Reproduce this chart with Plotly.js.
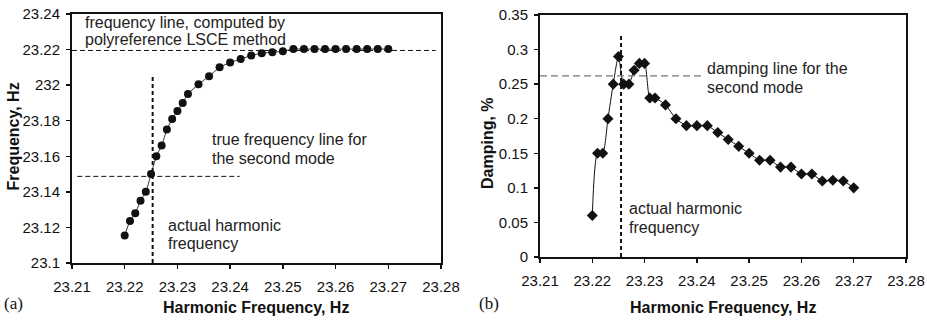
<!DOCTYPE html>
<html><head><meta charset="utf-8">
<script src="https://cdn.plot.ly/plotly-3.0.1.min.js"></script>
<style>html,body{margin:0;padding:0;background:#fff}#chart{width:927px;height:320px}</style>
</head><body><div id="chart"></div>
<script>
// Harmonic frequency (shared x values)
const harmonicFreq = [23.220,23.221,23.222,23.223,23.224,23.225,23.226,23.227,23.228,23.229,23.230,23.231,23.232,
  23.234,23.236,23.238,23.240,23.242,23.244,23.246,23.248,23.250,23.252,23.254,23.256,23.258,23.260,23.262,23.264,23.266,23.268,23.270];
// (a) identified frequency
const frequency = [23.1155,23.1236,23.128,23.135,23.140,23.150,23.160,23.166,23.175,23.181,23.1855,23.190,23.195,
  23.2005,23.205,23.210,23.2127,23.2147,23.2166,23.218,23.2185,23.219,23.2203,23.2203,23.2203,23.2203,23.2203,23.2203,23.2203,23.2203,23.2203,23.2203];
// (b) identified damping, %
const damping = [0.06,0.15,0.15,0.20,0.25,0.29,0.25,0.25,0.27,0.28,0.28,0.23,0.23,
  0.22,0.20,0.19,0.19,0.19,0.18,0.17,0.16,0.15,0.14,0.14,0.13,0.13,0.12,0.12,0.11,0.111,0.11,0.10];

const xTicks = [23.21,23.22,23.23,23.24,23.25,23.26,23.27,23.28];
const xTickText = ["23.21","23.22","23.23","23.24","23.25","23.26","23.27","23.28"];
const yTicksA = [23.1,23.12,23.14,23.16,23.18,23.2,23.22,23.24];
const yTickTextA = ["23.1","23.12","23.14","23.16","23.18","232","23.22","23.24"];
const yTicksB = [0,0.05,0.1,0.15,0.2,0.25,0.3,0.35];
const yTickTextB = ["0","0.05","0.1","0.15","0.2","0.25","0.3","0.35"];

// reference lines
const lsceFreq = 23.2195, lsceFromTo = [23.21, 23.279];
const trueFreq = 23.1487, trueFromTo = [23.211, 23.2418];
const actualHarmA = 23.2253, actualRangeA = [23.1, 23.2048];
const dampLine = 0.262, dampFromTo = [23.21, 23.241];
const actualHarmB = 23.2255, actualRangeB = [0, 0.32];

const W = 927, H = 320;
const px = x => x / W, py = y => 1 - y / H;
const font = "Liberation Sans, Arial, sans-serif";

const traces = [
  {x: harmonicFreq, y: frequency, xaxis: 'x', yaxis: 'y', type: 'scatter', mode: 'lines+markers',
   line: {color: '#333', width: 1, shape: 'spline', smoothing: 0.6},
   marker: {symbol: 'circle', size: 8, color: '#111'}},
  {x: harmonicFreq, y: damping, xaxis: 'x2', yaxis: 'y2', type: 'scatter', mode: 'lines+markers',
   line: {color: '#111', width: 1, shape: 'spline', smoothing: 0.6},
   marker: {symbol: 'diamond', size: 8.5, color: '#111'}}
];

const axisBase = {showline: true, linecolor: '#111', linewidth: 2, mirror: true, showgrid: false, zeroline: false,
  ticks: 'outside', ticklen: 4, tickwidth: 1.5, tickcolor: '#111', automargin: false,
  tickfont: {family: font, size: 15, color: '#111'}, tickmode: 'array'};
const xBase = Object.assign({}, axisBase, {range: [23.21, 23.28], tickvals: xTicks, ticktext: xTickText, ticklabelstandoff: 5});

const layout = {
  width: W, height: H, margin: {l: 0, r: 0, t: 0, b: 0}, showlegend: false,
  paper_bgcolor: '#fff', plot_bgcolor: '#fff',
  xaxis: Object.assign({}, xBase, {domain: [px(72), px(441)], anchor: 'y'}),
  yaxis: Object.assign({}, axisBase, {domain: [py(263), py(14)], range: [23.1, 23.24], anchor: 'x', tickvals: yTicksA, ticktext: yTickTextA, ticklabelstandoff: 3}),
  xaxis2: Object.assign({}, xBase, {domain: [px(540), px(906)], anchor: 'y2'}),
  yaxis2: Object.assign({}, axisBase, {domain: [py(257), py(15)], range: [0, 0.35], anchor: 'x2', tickvals: yTicksB, ticktext: yTickTextB, ticklabelstandoff: 3}),
  shapes: [
    {type: 'line', xref: 'x', yref: 'y', x0: lsceFromTo[0], x1: lsceFromTo[1], y0: lsceFreq, y1: lsceFreq, line: {color: '#111', width: 1, dash: '5px,3px'}},
    {type: 'line', xref: 'x', yref: 'y', x0: trueFromTo[0], x1: trueFromTo[1], y0: trueFreq, y1: trueFreq, line: {color: '#111', width: 1, dash: '5px,3px'}},
    {type: 'line', xref: 'x', yref: 'y', x0: actualHarmA, x1: actualHarmA, y0: actualRangeA[0], y1: actualRangeA[1], line: {color: '#111', width: 2, dash: '4px,3px'}},
    {type: 'line', xref: 'x2', yref: 'y2', x0: dampFromTo[0], x1: dampFromTo[1], y0: dampLine, y1: dampLine, line: {color: '#777', width: 1.2, dash: '7px,4px'}},
    {type: 'line', xref: 'x2', yref: 'y2', x0: actualHarmB, x1: actualHarmB, y0: actualRangeB[0], y1: actualRangeB[1], line: {color: '#111', width: 2, dash: '4px,3px'}}
  ],
  annotations: []
};

const annFont = {family: font, size: 16, color: '#222'};
function note(xref, yref, x, y, text, opts) {
  layout.annotations.push(Object.assign({xref, yref, x, y, text, showarrow: false, xanchor: 'left', yanchor: 'middle', align: 'left', font: annFont}, opts || {}));
}
note('x', 'y', 23.2121, 23.235, 'frequency line, computed by');
note('x', 'y', 23.2121, 23.2258, 'polyreference LSCE method');
note('x', 'y', 23.2362, 23.1696, 'true frequency line for');
note('x', 'y', 23.2362, 23.1588, 'the second mode');
note('x', 'y', 23.2279, 23.1213, 'actual harmonic');
note('x', 'y', 23.2279, 23.1107, 'frequency');
note('x2', 'y2', 23.2416, 0.2733, 'damping line for the');
note('x2', 'y2', 23.2416, 0.245, 'second mode');
note('x2', 'y2', 23.2266, 0.0707, 'actual harmonic');
note('x2', 'y2', 23.2266, 0.0423, 'frequency');

const titleFont = {family: font, size: 16, color: '#111'};
note('paper', 'paper', px(256), py(307), '<b>Harmonic Frequency, Hz</b>', {xanchor: 'center', font: titleFont});
note('paper', 'paper', px(723), py(307), '<b>Harmonic Frequency, Hz</b>', {xanchor: 'center', font: titleFont});
note('paper', 'paper', px(12.5), py(137), '<b>Frequency, Hz</b>', {xanchor: 'center', textangle: -90, font: titleFont});
note('paper', 'paper', px(487), py(143), '<b>Damping, %</b>', {xanchor: 'center', textangle: -90, font: titleFont});
const serif = {family: 'Liberation Serif, Times New Roman, serif', size: 17, color: '#111'};
note('paper', 'paper', px(2), py(303), '(a)', {font: serif});
note('paper', 'paper', px(477), py(303), '(b)', {font: serif});

Plotly.newPlot('chart', traces, layout, {displayModeBar: false, staticPlot: true});
</script>
</body></html>
